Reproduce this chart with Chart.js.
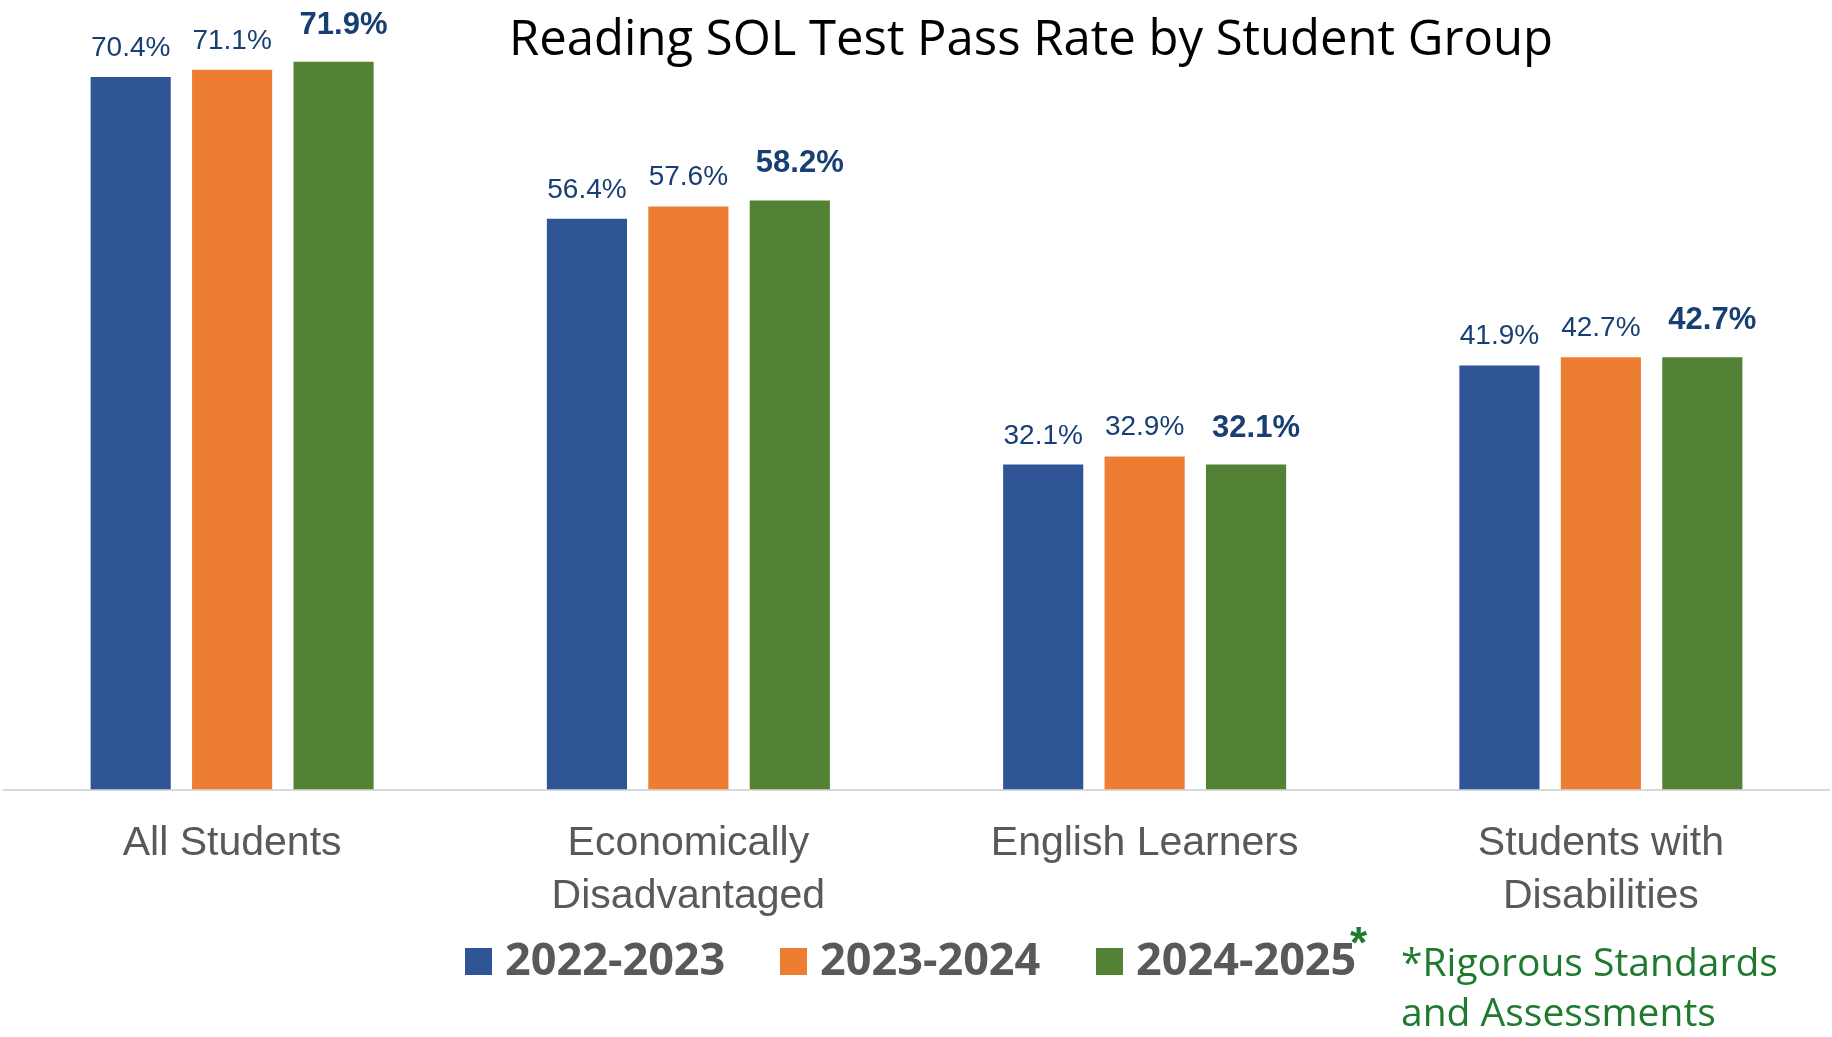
<!DOCTYPE html>
<html>
<head>
<meta charset="utf-8">
<title>Reading SOL Test Pass Rate by Student Group</title>
<script src="https://cdn.jsdelivr.net/npm/chart.js@4.4.1/dist/chart.umd.min.js"></script>
<style>
  html, body { margin: 0; padding: 0; background: #ffffff; }
  #wrap { position: relative; width: 1832px; height: 1037px; }
</style>
</head>
<body>
<div id="wrap"><canvas id="passChart"></canvas></div>
<script>
const categories = ['All Students', ['Economically', 'Disadvantaged'], 'English Learners', ['Students with', 'Disabilities']];
const years = ['2022-2023', '2023-2024', '2024-2025'];
const rates2223 = [70.4, 56.4, 32.1, 41.9];
const rates2324 = [71.1, 57.6, 32.9, 42.7];
const rates2425 = [71.9, 58.2, 32.1, 42.7];
const titleText = 'Reading SOL Test Pass Rate by Student Group';
const noteLines = ['*Rigorous Standards', 'and Assessments'];

const colors = ['#2F5597', '#ED7D31', '#548235'];
const labelColor = '#173F73';
const grayText = '#595959';
const noteGreen = '#1F7A2F';

// value labels above the bars, last series in bold (nudged a bit right like the original)
const valueLabels = {
  id: 'valueLabels',
  afterDatasetsDraw(chart) {
    const ctx = chart.ctx;
    ctx.save();
    ctx.textAlign = 'center';
    ctx.textBaseline = 'alphabetic';
    ctx.fillStyle = labelColor;
    chart.data.datasets.forEach((ds, di) => {
      const meta = chart.getDatasetMeta(di);
      const bold = di === chart.data.datasets.length - 1;
      ctx.font = bold ? 'bold 31px "Liberation Sans", Arial, sans-serif' : '28px "Liberation Sans", Arial, sans-serif';
      meta.data.forEach((bar, i) => {
        ctx.fillText(ds.data[i].toFixed(1) + '%', bar.x + (bold ? 10 : 0), bar.y - (bold ? 28 : 21));
      });
    });
    ctx.restore();
  }
};

// title, custom legend and footnote
const decorations = {
  id: 'decorations',
  afterDraw(chart) {
    const ctx = chart.ctx;
    ctx.save();
    ctx.fillStyle = '#000000';
    ctx.textAlign = 'center';
    ctx.textBaseline = 'alphabetic';
    ctx.font = '49px "Open Sans", sans-serif';
    ctx.fillText(titleText, 1031, 55);

    // legend
    const boxX = [465, 780, 1096];
    ctx.textAlign = 'left';
    ctx.font = 'bold 45px "Open Sans", sans-serif';
    chart.data.datasets.forEach((ds, di) => {
      ctx.fillStyle = ds.backgroundColor;
      ctx.fillRect(boxX[di], 948, 27, 27);
      ctx.fillStyle = grayText;
      ctx.fillText(ds.label, boxX[di] + 40, 975);
    });
    ctx.fillStyle = noteGreen;
    ctx.font = 'bold 44px "Liberation Sans", Arial, sans-serif';
    ctx.fillText('*', 1350, 958);

    ctx.font = '39px "Open Sans", sans-serif';
    ctx.fillText(noteLines[0], 1401, 976);
    ctx.fillText(noteLines[1], 1401, 1026);
    ctx.restore();
  }
};

const ctx = document.getElementById('passChart').getContext('2d');
const passChart = new Chart(ctx, {
  type: 'bar',
  data: {
    labels: categories,
    datasets: [
      { label: years[0], data: rates2223, backgroundColor: colors[0] },
      { label: years[1], data: rates2324, backgroundColor: colors[1] },
      { label: years[2], data: rates2425, backgroundColor: colors[2] }
    ]
  },
  options: {
    responsive: true,
    maintainAspectRatio: false,
    animation: false,
    layout: { padding: { left: 4, right: 3, top: 0, bottom: 0 } },
    datasets: {
      bar: { categoryPercentage: 0.667, barPercentage: 0.79, borderWidth: 0 }
    },
    plugins: {
      legend: { display: false },
      title: { display: false },
      tooltip: { enabled: false }
    },
    scales: {
      y: { display: false, min: 0, max: 78 },
      x: {
        grid: { display: false, drawTicks: false },
        border: { display: true, color: '#D9D9D9', width: 2 },
        ticks: {
          color: grayText,
          padding: 28,
          font: { family: '"Liberation Sans", Arial, sans-serif', size: 41, lineHeight: 1.28 }
        },
        afterFit(scale) { scale.height = 247.5; }
      }
    }
  },
  plugins: [valueLabels, decorations]
});
</script>
</body>
</html>
